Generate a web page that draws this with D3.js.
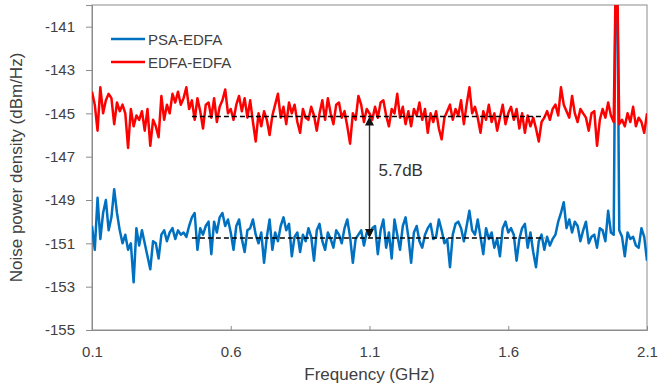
<!DOCTYPE html>
<html><head><meta charset="utf-8">
<script src="https://cdn.jsdelivr.net/npm/d3@7/dist/d3.min.js"></script>
<style>body{margin:0;background:#fff;} text{font-family:"Liberation Sans",Arial,sans-serif;}</style>
</head><body><svg id="chart" width="659" height="389"></svg>
<script>
const freq = [
0.10,0.11,0.12,0.13,0.14,0.15,0.16,0.17,0.18,0.19,
0.20,0.21,0.22,0.23,0.24,0.25,0.26,0.27,0.28,0.29,
0.30,0.31,0.32,0.33,0.34,0.35,0.36,0.37,0.38,0.39,
0.40,0.41,0.42,0.43,0.44,0.45,0.46,0.47,0.48,0.49,
0.50,0.51,0.52,0.53,0.54,0.55,0.56,0.57,0.58,0.59,
0.60,0.61,0.62,0.63,0.64,0.65,0.66,0.67,0.68,0.69,
0.70,0.71,0.72,0.73,0.74,0.75,0.76,0.77,0.78,0.79,
0.80,0.81,0.82,0.83,0.84,0.85,0.86,0.87,0.88,0.89,
0.90,0.91,0.92,0.93,0.94,0.95,0.96,0.97,0.98,0.99,
1.00,1.01,1.02,1.03,1.04,1.05,1.06,1.07,1.08,1.09,
1.10,1.11,1.12,1.13,1.14,1.15,1.16,1.17,1.18,1.19,
1.20,1.21,1.22,1.23,1.24,1.25,1.26,1.27,1.28,1.29,
1.30,1.31,1.32,1.33,1.34,1.35,1.36,1.37,1.38,1.39,
1.40,1.41,1.42,1.43,1.44,1.45,1.46,1.47,1.48,1.49,
1.50,1.51,1.52,1.53,1.54,1.55,1.56,1.57,1.58,1.59,
1.60,1.61,1.62,1.63,1.64,1.65,1.66,1.67,1.68,1.69,
1.70,1.71,1.72,1.73,1.74,1.75,1.76,1.77,1.78,1.79,
1.80,1.81,1.82,1.83,1.84,1.85,1.86,1.87,1.88,1.89,
1.90,1.91,1.92,1.93,1.94,1.95,1.96,1.97,1.98,
1.9865,1.9935,
2.00,2.01,2.02,2.03,2.04,2.05,2.06,2.07,2.08,2.09,2.10];

const edfaEdfa = [
-144.0,-144.6,-145.8,-143.8,-145.0,-144.4,-144.1,-144.3,-145.5,-144.5,
-144.9,-144.6,-145.0,-146.6,-144.8,-145.6,-145.1,-145.3,-144.9,-145.8,
-144.8,-146.5,-145.3,-145.6,-146.1,-144.2,-145.3,-144.6,-145.0,-144.1,
-144.5,-144.0,-144.6,-144.3,-143.8,-144.8,-144.4,-145.3,-144.3,-144.9,
-145.7,-144.6,-144.5,-145.2,-144.3,-145.4,-144.7,-144.4,-143.9,-145.0,
-144.8,-145.3,-144.6,-144.2,-144.9,-144.3,-145.2,-144.4,-145.4,-146.3,
-145.0,-145.6,-144.9,-145.3,-146.0,-145.1,-144.6,-144.1,-145.2,-144.7,
-145.5,-144.5,-145.0,-144.6,-145.4,-145.9,-144.8,-145.2,-145.3,-144.7,
-145.1,-145.8,-145.0,-144.4,-145.3,-144.3,-145.0,-145.5,-144.6,-144.5,
-145.2,-144.9,-145.6,-146.4,-145.0,-145.3,-144.2,-144.6,-145.4,-144.8,
-145.0,-145.3,-144.7,-145.2,-144.5,-144.4,-145.1,-145.6,-144.8,-145.0,
-144.1,-145.2,-144.7,-145.5,-144.9,-145.6,-144.8,-145.1,-144.5,-145.3,
-144.8,-145.9,-145.0,-145.4,-144.9,-145.7,-146.2,-145.2,-144.9,-144.6,
-145.3,-144.8,-145.1,-144.4,-145.5,-144.6,-143.8,-145.0,-144.7,-145.2,
-145.9,-144.9,-145.3,-144.6,-145.4,-145.0,-145.8,-145.2,-144.6,-145.5,
-145.0,-144.7,-145.3,-144.8,-145.7,-145.0,-145.9,-145.1,-145.6,-145.2,
-145.7,-146.3,-145.4,-145.2,-144.9,-145.3,-144.8,-144.6,-145.1,-143.8,
-144.6,-144.9,-145.2,-144.2,-145.0,-145.4,-144.8,-145.0,-145.2,-145.8,
-145.0,-144.9,-146.5,-145.3,-144.8,-145.2,-144.5,-145.1,-145.4,
-139.5,-139.5,
-145.5,-145.3,-145.6,-145.0,-145.4,-144.7,-145.6,-145.2,-145.4,-145.9,-145.0];

const psaEdfa = [
-150.2,-151.3,-148.9,-150.8,-149.6,-149.0,-150.4,-149.8,-148.5,-149.6,
-150.4,-151.0,-150.6,-151.3,-151.0,-152.8,-150.3,-151.1,-150.4,-151.0,
-151.6,-152.2,-150.9,-151.0,-151.7,-150.6,-150.4,-150.9,-150.5,-150.3,
-150.8,-150.4,-150.6,-150.5,-150.7,-150.2,-149.8,-149.6,-151.3,-150.3,
-150.6,-150.2,-150.0,-151.5,-150.0,-150.5,-149.8,-149.6,-150.2,-149.9,
-150.5,-151.3,-150.2,-149.9,-150.8,-151.4,-150.4,-150.3,-149.9,-150.6,
-151.0,-150.5,-151.9,-150.7,-149.9,-151.3,-150.5,-150.9,-150.2,-149.8,
-150.4,-150.1,-151.6,-150.7,-150.5,-151.4,-150.6,-150.9,-150.3,-150.7,
-151.8,-150.4,-150.1,-150.9,-151.3,-150.5,-150.8,-151.2,-150.4,-150.6,
-151.0,-150.3,-149.9,-150.7,-151.9,-150.8,-150.6,-150.4,-151.1,-150.5,
-150.6,-150.3,-150.2,-151.5,-150.4,-149.9,-151.2,-150.5,-151.7,-149.9,
-150.6,-151.3,-150.2,-149.8,-150.7,-151.9,-150.5,-150.2,-150.9,-151.2,
-150.6,-150.3,-150.1,-150.8,-150.7,-149.9,-150.4,-151.0,-150.8,-152.1,
-150.6,-150.1,-150.0,-150.3,-150.9,-150.2,-149.5,-150.4,-150.6,-149.9,
-150.7,-151.5,-150.3,-150.8,-150.5,-151.2,-150.8,-151.6,-150.3,-150.0,
-150.5,-150.3,-150.6,-151.8,-150.8,-150.3,-150.1,-151.2,-150.5,-151.4,
-152.1,-150.9,-150.6,-151.3,-150.7,-151.1,-150.8,-150.6,-150.0,-149.6,
-149.1,-150.3,-149.9,-150.5,-150.0,-150.2,-150.9,-150.4,-150.0,-151.0,
-150.7,-150.6,-151.2,-150.3,-150.4,-150.9,-149.5,-150.5,-150.6,
-139.5,-139.5,
-150.4,-150.7,-151.6,-150.5,-150.8,-150.7,-151.1,-151.2,-150.3,-150.7,-151.8];

const seriesNames = ["PSA-EDFA", "EDFA-EDFA"];
const xTicks = [0.1, 0.6, 1.1, 1.6, 2.1];
const yTicks = [-155, -153, -151, -149, -147, -145, -143, -141];
const levelRange = [0.46, 1.73];
const levels = [-145.15, -150.75];
const arrowFreq = 1.1;
const deltaLabel = "5.7dB";

const svg = d3.select("#chart");
const m = {l: 92, r: 12, t: 5, b: 59};
const W = 659, H = 389;
const x = d3.scaleLinear().domain([0.1, 2.1]).range([m.l, W - m.r]);
const y = d3.scaleLinear().domain([-155, -140]).range([H - m.b, m.t]);
const axisCol = "#8c8c8c", txtCol = "#404040";
const FONT = "Liberation Sans, Arial, sans-serif";

svg.append("defs").append("clipPath").attr("id", "clip")
  .append("rect").attr("x", m.l).attr("y", m.t).attr("width", x(2.1) - m.l).attr("height", y(-155) - m.t);

// frame
svg.append("rect").attr("x", m.l).attr("y", m.t).attr("width", x(2.1) - m.l).attr("height", y(-155) - m.t)
  .attr("fill", "none").attr("stroke", axisCol).attr("stroke-width", 1);

// y axis
const ya = svg.append("g").attr("transform", `translate(${m.l},0)`)
  .call(d3.axisLeft(y).tickValues(yTicks).tickFormat(d => String(d)).tickSize(6).tickPadding(11));
ya.select(".domain").attr("stroke", axisCol);
ya.selectAll(".tick line").attr("stroke", axisCol);
ya.selectAll("text").attr("fill", txtCol).style("font-size", "15px").style("font-family", FONT);

// x axis
const xa = svg.append("g").attr("transform", `translate(0,${y(-155)})`)
  .call(d3.axisBottom(x).tickValues(xTicks).tickFormat(d3.format(".1f")).tickSize(-4).tickPadding(16));
xa.select(".domain").attr("stroke", axisCol);
xa.selectAll(".tick line").attr("stroke", axisCol);
xa.selectAll("text").attr("fill", txtCol).style("font-size", "15px").style("font-family", FONT);

// lines
const line = d3.line().x((d, i) => x(freq[i])).y(d => y(d));
const g = svg.append("g").attr("clip-path", "url(#clip)");
g.append("path").datum(psaEdfa).attr("d", line).attr("fill", "none").attr("stroke", "#0070C0").attr("stroke-width", 2.5).attr("stroke-linejoin", "round");
g.append("path").datum(edfaEdfa).attr("d", line).attr("fill", "none").attr("stroke", "#FF0000").attr("stroke-width", 2.5).attr("stroke-linejoin", "round");

// dashed level lines
levels.forEach(lv => {
  svg.append("line").attr("x1", x(levelRange[0])).attr("x2", x(levelRange[1]))
    .attr("y1", y(lv)).attr("y2", y(lv))
    .attr("stroke", "#000").attr("stroke-width", 1.5).attr("stroke-dasharray", "5,3");
});

// arrow
const ax = x(arrowFreq), ay1 = y(levels[0]), ay2 = y(levels[1]);
svg.append("line").attr("x1", ax).attr("x2", ax).attr("y1", ay1 + 7).attr("y2", ay2 - 7)
  .attr("stroke", "#333").attr("stroke-width", 1.4);
svg.append("path").attr("d", `M${ax},${ay1} L${ax-4.5},${ay1+9} L${ax+4.5},${ay1+9} Z`).attr("fill", "#111");
svg.append("path").attr("d", `M${ax},${ay2} L${ax-4.5},${ay2-9} L${ax+4.5},${ay2-9} Z`).attr("fill", "#111");
svg.append("text").attr("x", ax + 9).attr("y", (ay1 + ay2) / 2 - 1).text(deltaLabel)
  .attr("fill", "#333").style("font-size", "17px");

// legend
const legCols = ["#0070C0", "#FF0000"];
seriesNames.forEach((n, i) => {
  const ly = 39 + i * 23;
  svg.append("line").attr("x1", 111).attr("x2", 145).attr("y1", ly).attr("y2", ly)
    .attr("stroke", legCols[i]).attr("stroke-width", 2.5);
  svg.append("text").attr("x", 148).attr("y", ly + 5.5).text(n).attr("fill", txtCol).style("font-size", "15px");
});

// axis titles
svg.append("text").attr("x", (m.l + x(2.1)) / 2).attr("y", 380).attr("text-anchor", "middle")
  .text("Frequency (GHz)").attr("fill", txtCol).style("font-size", "17px");
svg.append("text").attr("transform", `translate(22,${(m.t + y(-155)) / 2}) rotate(-90)`).attr("text-anchor", "middle")
  .text("Noise power density (dBm/Hz)").attr("fill", txtCol).style("font-size", "17px");
</script></body></html>
